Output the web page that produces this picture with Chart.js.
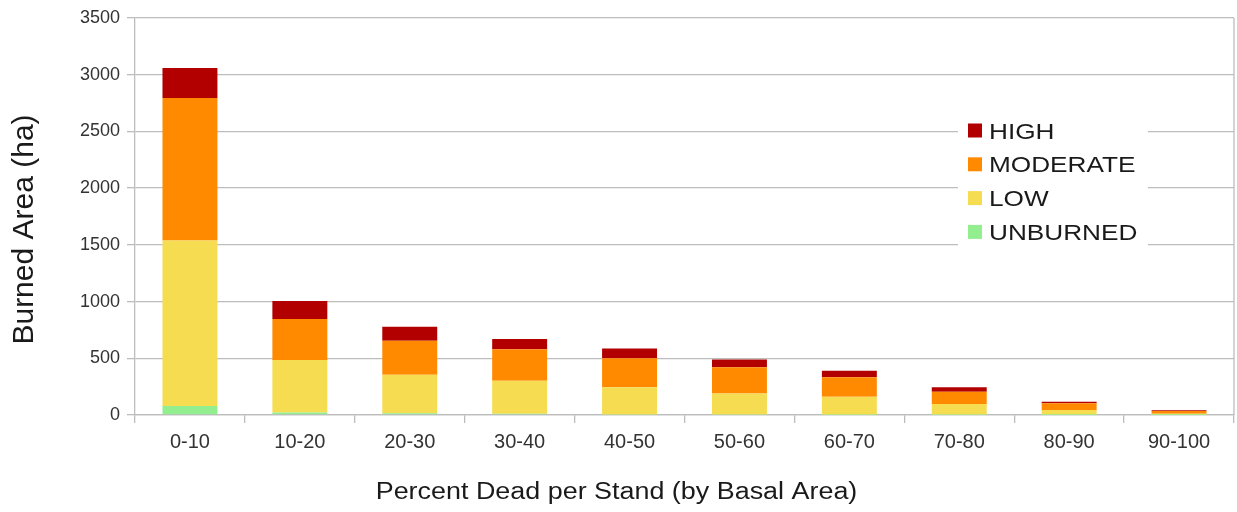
<!DOCTYPE html>
<html>
<head>
<meta charset="utf-8">
<script src="https://cdn.jsdelivr.net/npm/chart.js@4/dist/chart.umd.min.js"></script>
<style>
  html, body { margin: 0; padding: 0; background: #ffffff; }
  #wrap { width: 1237px; height: 512px; position: relative; }
</style>
</head>
<body>
<div id="wrap"><canvas id="chart"></canvas></div>
<script>
// Burned area by stand mortality class, stacked by burn severity
const categories = ['0-10', '10-20', '20-30', '30-40', '40-50', '50-60', '60-70', '70-80', '80-90', '90-100'];
const unburned = [79, 23, 15, 12, 5, 4, 3, 2, 1, 1];
const low      = [1459, 462, 340, 291, 240, 186, 158, 95, 43, 10];
const moderate = [1256, 361, 300, 277, 256, 232, 171, 108, 60, 25];
const high     = [265, 159, 124, 91, 85, 68, 59, 39, 13, 5];

const yTicks = [0, 500, 1000, 1500, 2000, 2500, 3000, 3500];

const xTitle = 'Percent Dead per Stand (by Basal Area)';
const yTitle = 'Burned Area (ha)';

const COLORS = {
  HIGH: '#b20000',
  MODERATE: '#ff8a00',
  LOW: '#f6dc50',
  UNBURNED: '#92ee8e'
};
const GRID = '#bdbdbd';
const FONT = '"Liberation Sans", Arial, sans-serif';
const TITLE_COLOR = '#1a1a1a';

// Draws text with a horizontal widening factor, keeping its height
function wideText(ctx, text, x, y, sx) {
  ctx.save();
  ctx.translate(x, y);
  ctx.scale(sx, 1);
  ctx.fillText(text, 0, 0);
  ctx.restore();
}

// Legend box inside the plot, listing series top-down in stack order
const insideLegend = {
  id: 'insideLegend',
  afterDatasetsDraw(chart) {
    const ctx = chart.ctx;
    ctx.save();
    ctx.fillStyle = '#ffffff';
    ctx.fillRect(958, 113, 190, 137);
    const items = chart.data.datasets.slice().reverse();
    ctx.font = '22px ' + FONT;
    ctx.textBaseline = 'alphabetic';
    ctx.textAlign = 'left';
    items.forEach((ds, i) => {
      const base = 138.5 + i * 33.8;
      ctx.fillStyle = ds.backgroundColor;
      ctx.fillRect(968, base - 15, 14, 14);
      ctx.fillStyle = TITLE_COLOR;
      wideText(ctx, ds.label, 989, base, 1.19);
    });
    ctx.restore();
  }
};

// Right-hand frame line of the plot area
const rightFrame = {
  id: 'rightFrame',
  beforeDatasetsDraw(chart) {
    const { ctx, chartArea } = chart;
    ctx.save();
    ctx.strokeStyle = GRID;
    ctx.lineWidth = 1.3;
    ctx.beginPath();
    ctx.moveTo(chartArea.right, chartArea.top);
    ctx.lineTo(chartArea.right, chartArea.bottom);
    ctx.stroke();
    ctx.restore();
  }
};

// Axis titles
const axisTitles = {
  id: 'axisTitles',
  afterDraw(chart) {
    const ctx = chart.ctx;
    ctx.save();
    ctx.fillStyle = TITLE_COLOR;
    ctx.textAlign = 'center';
    ctx.textBaseline = 'alphabetic';
    ctx.font = '23px ' + FONT;
    wideText(ctx, xTitle, 616.5, 499, 1.17);
    ctx.font = '30px ' + FONT;
    ctx.translate(33, 229.5);
    ctx.rotate(-Math.PI / 2);
    ctx.fillText(yTitle, 0, 0);
    ctx.restore();
  }
};

const mk = (label, data) => ({
  label,
  data,
  backgroundColor: COLORS[label],
  borderWidth: 0,
  categoryPercentage: 1.0,
  barPercentage: 0.5
});

new Chart(document.getElementById('chart'), {
  type: 'bar',
  data: {
    labels: categories,
    datasets: [
      mk('UNBURNED', unburned),
      mk('LOW', low),
      mk('MODERATE', moderate),
      mk('HIGH', high)
    ]
  },
  options: {
    responsive: true,
    maintainAspectRatio: false,
    animation: false,
    layout: { padding: { top: 18, right: 3, left: 0, bottom: 0 } },
    plugins: {
      legend: { display: false },
      tooltip: { enabled: false }
    },
    scales: {
      x: {
        stacked: true,
        afterFit(scale) { scale.height = 97; },
        grid: {
          offset: true,
          drawOnChartArea: false,
          drawTicks: true,
          tickLength: 8,
          color: GRID,
          lineWidth: 1.3
        },
        border: { display: true, color: GRID, width: 1.3 },
        ticks: {
          color: '#333333',
          font: { family: FONT, size: 20 },
          padding: 7
        }
      },
      y: {
        stacked: true,
        min: 0,
        max: 3500,
        afterFit(scale) { scale.width = 135; },
        afterBuildTicks(scale) { scale.ticks = yTicks.map(v => ({ value: v })); },
        grid: {
          color: GRID,
          lineWidth: 1.3,
          drawTicks: true,
          tickLength: 8
        },
        border: { display: true, color: GRID, width: 1.3 },
        ticks: {
          color: '#333333',
          font: { family: FONT, size: 18 },
          padding: 7,
          callback: (v) => String(v)
        }
      }
    }
  },
  plugins: [rightFrame, insideLegend, axisTitles]
});
</script>
</body>
</html>
